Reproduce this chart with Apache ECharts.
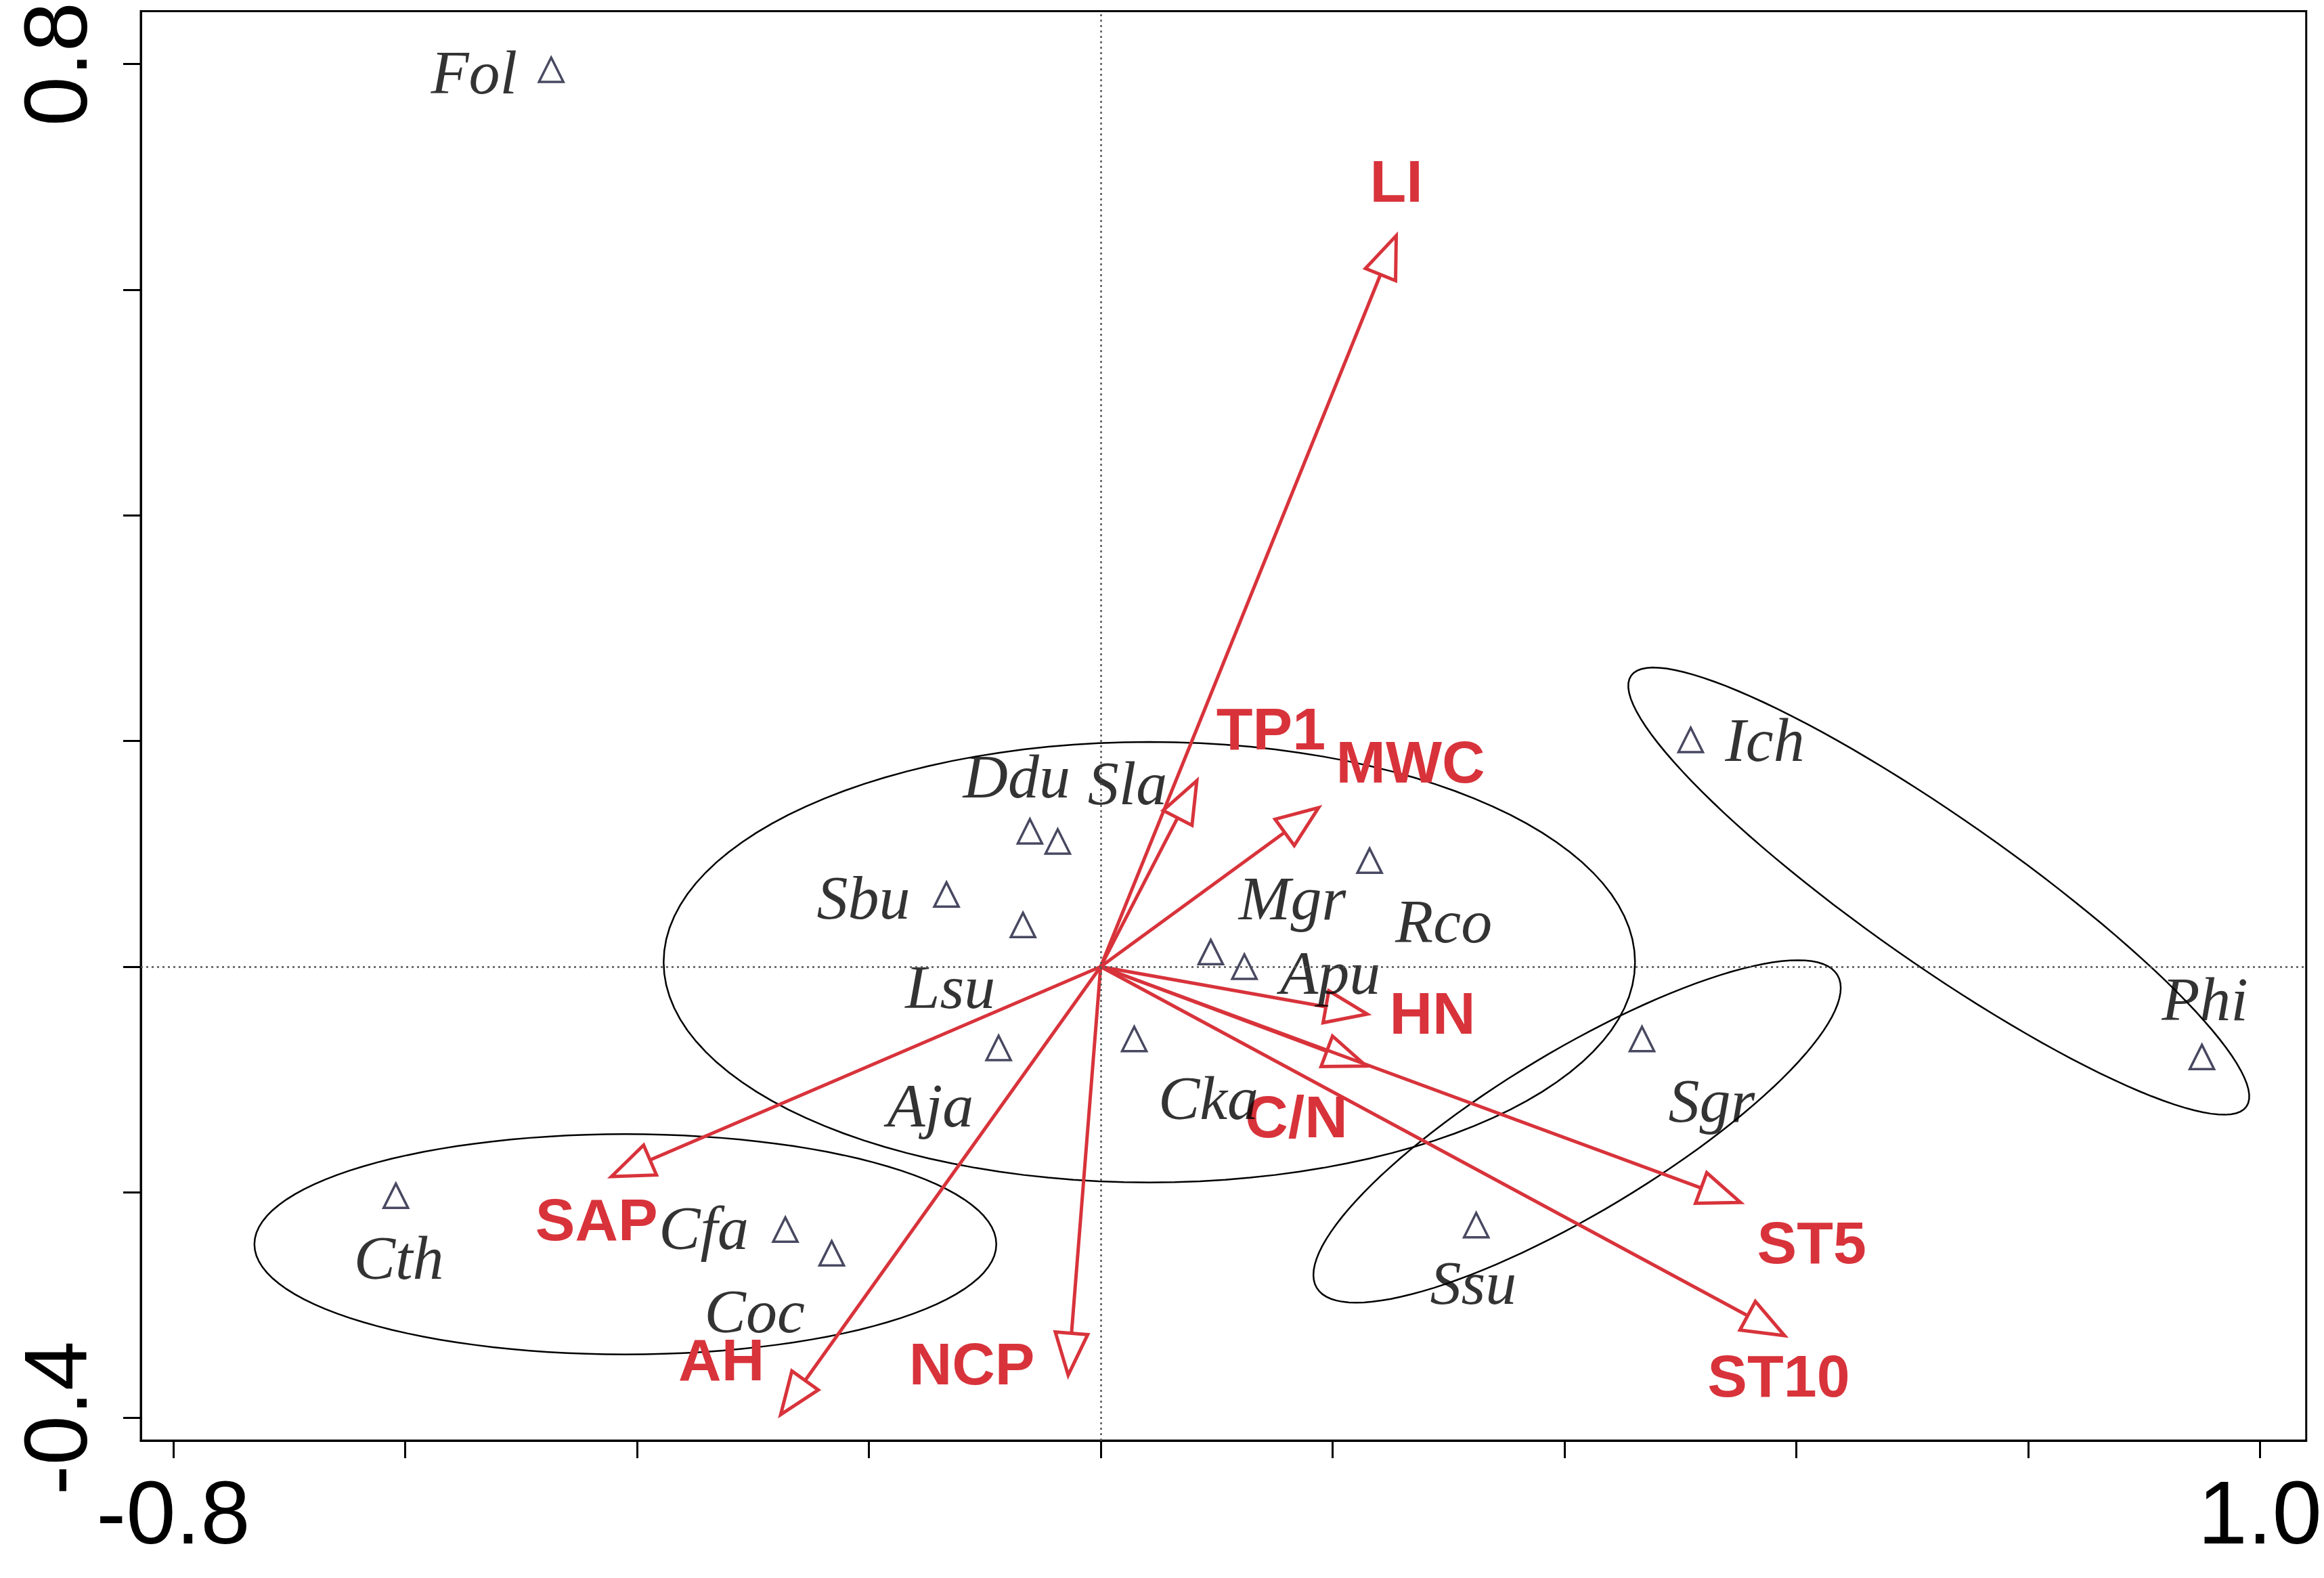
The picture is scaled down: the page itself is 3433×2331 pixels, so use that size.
<!DOCTYPE html>
<html>
<head>
<meta charset="utf-8">
<style>html,body{margin:0;padding:0;background:#fff}#chart{width:3433px;height:2331px}</style>
<script src="https://cdn.jsdelivr.net/npm/echarts@6/dist/echarts.min.js"></script>
</head>
<body>
<div id="chart"></div>
<script>
// species scores
const speciesNames = ["Fol","Ddu","Sla","Sbu","Lsu","Aja","Cka","Mgr","Apu","Rco","Ich","Phi","Sgr","Ssu","Cth","Cfa","Coc"];
const speciesX = [-0.474,-0.061,-0.037,-0.133,-0.067,-0.088,0.029,0.095,0.124,0.232,0.509,0.950,0.467,0.324,-0.608,-0.272,-0.232];
const speciesY = [0.795,0.120,0.111,0.064,0.037,-0.072,-0.064,0.013,0.000,0.094,0.201,-0.080,-0.064,-0.229,-0.203,-0.233,-0.254];
// environmental arrows (tips)
const envNames = ["LI","TP1","MWC","HN","C/N","ST5","ST10","NCP","AH","SAP"];
const envX = [0.255,0.083,0.188,0.230,0.229,0.552,0.590,-0.028,-0.276,-0.422];
const envY = [0.648,0.165,0.141,-0.042,-0.088,-0.209,-0.327,-0.362,-0.397,-0.186];
// ellipses: centre x, centre y, semi-axes (x-data units), rotation deg
const ellCx = [0.042,-0.410,0.723,0.411];
const ellCy = [0.004,-0.246,0.067,-0.146];
const ellA = [0.419,0.320,0.324,0.262];
const ellB = [0.190,0.095,0.063,0.070];
const ellRot = [0,0,35,-31];

const xTicks = [-0.8,-0.6,-0.4,-0.2,0,0.2,0.4,0.6,0.8,1.0];
const yTicks = [-0.4,-0.2,0,0.2,0.4,0.6,0.8];

// label offsets in display px (style)
const S = 2.19;
const spOff = [[-52,5],[-9,-34],[47,-36],[-56,5],[-49,45],[-46,42],[50,43],[55,-33],[58,7],[50,44],[50,3],[2,-36],[47,45],[-2,42],[2,45],[-55,2],[-52,42]];
const envOff = [[0,-34],[50,-32],[62,-28],[44,2],[-47,37],[48,30],[-4,30],[-65,-5],[-40,-34],[-10,32]];
const RED = "#d8333b";

const chart = echarts.init(document.getElementById("chart"));

const option = {
  animation: false,
  backgroundColor: "#fff",
  grid: { left: 208, right: 6, top: 3, bottom: 203, show: true, borderColor: "#000", borderWidth: 3 },
  xAxis: {
    type: "value", min: -0.828, max: 1.04,
    splitLine: { show: false },
    axisLine: { onZero: false, lineStyle: { color: "#000", width: 3 } },
    axisTick: { show: true, length: 26, lineStyle: { color: "#000", width: 3 }, customValues: xTicks },
    axisLabel: { customValues: [-0.8, 1.0], margin: 50, fontSize: 132, color: "#000", fontFamily: "Liberation Sans", formatter: v => v.toFixed(1) }
  },
  yAxis: {
    type: "value", min: -0.42, max: 0.847,
    splitLine: { show: false },
    axisLine: { onZero: false, lineStyle: { color: "#000", width: 3 } },
    axisTick: { show: true, length: 26, lineStyle: { color: "#000", width: 3 }, customValues: yTicks },
    axisLabel: { customValues: [-0.4, 0.8], rotate: 90, margin: 50, fontSize: 132, color: "#000", fontFamily: "Liberation Sans", formatter: v => v.toFixed(1) }
  },
  series: [
    {
      type: "custom",
      silent: true,
      data: ellCx.map((c, i) => [c, ellCy[i], ellA[i], ellB[i], ellRot[i]]),
      renderItem: (params, api) => {
        const c = api.coord([api.value(0), api.value(1)]);
        const px = api.size([1, 1]);
        const a = api.value(2) * px[0], b = api.value(3) * px[0];
        const r = api.value(4) * Math.PI / 180;
        const pts = [];
        for (let k = 0; k <= 120; k++) {
          const t = k / 120 * Math.PI * 2;
          const ex = a * Math.cos(t), ey = b * Math.sin(t);
          pts.push([c[0] + ex * Math.cos(r) - ey * Math.sin(r), c[1] + ex * Math.sin(r) + ey * Math.cos(r)]);
        }
        return { type: "polyline", shape: { points: pts }, style: { stroke: "#000", lineWidth: 2.5, fill: null } };
      },
      markLine: {
        silent: true, symbol: "none", label: { show: false },
        lineStyle: { color: "#555", type: [3, 5], width: 2.5 },
        data: [{ xAxis: 0 }, { yAxis: 0 }]
      }
    },
    {
      type: "custom",
      silent: true,
      data: envX.map((x, i) => [x, envY[i], i]),
      renderItem: (params, api) => {
        const o = api.coord([0, 0]);
        const t = api.coord([api.value(0), api.value(1)]);
        const i = api.value(2);
        const dx = t[0] - o[0], dy = t[1] - o[1];
        const len = Math.sqrt(dx * dx + dy * dy);
        const ux = dx / len, uy = dy / len;
        const L = 62, W = 24;
        const bx = t[0] - ux * L, by = t[1] - uy * L;
        return {
          type: "group",
          children: [
            { type: "line", shape: { x1: o[0], y1: o[1], x2: bx, y2: by }, style: { stroke: RED, lineWidth: 5 } },
            { type: "polygon", shape: { points: [[t[0], t[1]], [bx - uy * W, by + ux * W], [bx + uy * W, by - ux * W]] }, style: { stroke: RED, lineWidth: 5, fill: "#fff" } },
            { type: "text", x: t[0] + envOff[i][0] * S, y: t[1] + envOff[i][1] * S,
              style: { text: envNames[i], fill: RED, font: "bold 88px 'Liberation Sans'", align: "center", verticalAlign: "middle" } }
          ]
        };
      }
    },
    {
      type: "scatter",
      symbol: "triangle",
      symbolSize: 36,
      itemStyle: { color: "rgba(255,255,255,0)", borderColor: "#1a1a3a", borderWidth: 3.5 },
      data: speciesNames.map((n, i) => ({
        value: [speciesX[i], speciesY[i]],
        label: { offset: [spOff[i][0] * S, spOff[i][1] * S] }
      })),
      label: {
        show: true, position: "inside",
        formatter: p => speciesNames[p.dataIndex],
        fontFamily: "Liberation Serif", fontStyle: "italic", fontSize: 92, color: "#000"
      }
    }
  ]
};
chart.setOption(option);
</script>
</body>
</html>
